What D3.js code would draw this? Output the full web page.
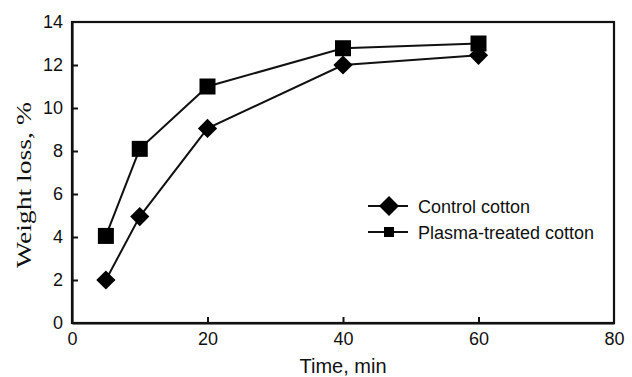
<!DOCTYPE html>
<html>
<head>
<meta charset="utf-8">
<script src="https://cdn.jsdelivr.net/npm/d3@7"></script>
<style>
  body { margin: 0; background: #fff; }
  text { font-family: "Liberation Sans", Arial, sans-serif; fill: #111; }
</style>
</head>
<body>
<div id="container"></div>
<script>
/* DATA */
const times = [5, 10, 20, 40, 60];
const controlLoss = [2.0, 4.95, 9.05, 12.0, 12.45];
const plasmaLoss = [4.05, 8.1, 11.0, 12.78, 13.0];
const seriesNames = ["Control cotton", "Plasma-treated cotton"];
const xTicks = [0, 20, 40, 60, 80];
const yTicks = [0, 2, 4, 6, 8, 10, 12, 14];

/* CONSTANTS */
const width = 632, height = 377,
  margin = { top: 22, bottom: 54, left: 72, right: 18 };

const svg = d3.select("#container")
  .append("svg")
  .attr("width", width)
  .attr("height", height);

const x = d3.scaleLinear().domain([0, 80]).range([margin.left, width - margin.right]);
const y = d3.scaleLinear().domain([0, 14]).range([height - margin.bottom, margin.top]);

// frame
svg.append("rect")
  .attr("x", x(0)).attr("y", y(14))
  .attr("width", x(80) - x(0)).attr("height", y(0) - y(14))
  .attr("fill", "none").attr("stroke", "#111").attr("stroke-width", 2.2);

// axes with inward ticks
const xAxis = svg.append("g")
  .attr("transform", `translate(0,${y(0)})`)
  .call(d3.axisBottom(x).tickValues(xTicks).tickSizeInner(-6).tickSizeOuter(0).tickPadding(9));
const yAxis = svg.append("g")
  .attr("transform", `translate(${x(0)},0)`)
  .call(d3.axisLeft(y).tickValues(yTicks).tickSizeInner(-6).tickSizeOuter(0).tickPadding(9));

[xAxis, yAxis].forEach(a => {
  a.select(".domain").attr("stroke", "#111").attr("stroke-width", 2.2);
  a.selectAll(".tick line").attr("stroke", "#111").attr("stroke-width", 2);
  a.selectAll(".tick text").attr("font-size", 18).attr("fill", "#111")
    .attr("font-family", "Liberation Sans, Arial, sans-serif");
});
xAxis.selectAll(".tick")
  .filter(d => d === 0 || d === 80)
  .select("line").remove();
yAxis.selectAll(".tick")
  .filter(d => d === 0 || d === 14)
  .select("line").remove();

// axis titles
svg.append("text")
  .attr("x", 343)
  .attr("y", 373)
  .attr("text-anchor", "middle")
  .attr("font-size", 20)
  .text("Time, min");

svg.append("text")
  .attr("transform", `translate(31,185) rotate(-90)`)
  .attr("text-anchor", "middle")
  .attr("font-size", 20)
  .attr("textLength", 166)
  .attr("lengthAdjust", "spacingAndGlyphs")
  .style("font-family", "Liberation Serif, Times New Roman, serif")
  .text("Weight loss, %");

// lines
const lineGen = d3.line().x(d => x(d[0])).y(d => y(d[1]));
const controlPts = times.map((t, i) => [t, controlLoss[i]]);
const plasmaPts = times.map((t, i) => [t, plasmaLoss[i]]);

[controlPts, plasmaPts].forEach(pts => {
  svg.append("path")
    .attr("d", lineGen(pts))
    .attr("fill", "none")
    .attr("stroke", "#111")
    .attr("stroke-width", 2);
});

const diamond = d3.symbol().type(d3.symbolSquare).size(185);

// control markers (diamonds)
svg.selectAll("path.control")
  .data(controlPts)
  .join("path")
  .attr("class", "control")
  .attr("d", diamond)
  .attr("fill", "#000")
  .attr("transform", d => `translate(${x(d[0])},${y(d[1])}) rotate(45)`);

// plasma markers (squares)
svg.selectAll("rect.plasma")
  .data(plasmaPts)
  .join("rect")
  .attr("class", "plasma")
  .attr("x", d => x(d[0]) - 8)
  .attr("y", d => y(d[1]) - 8)
  .attr("width", 16).attr("height", 16)
  .attr("fill", "#000");

// legend
const legend = svg.append("g").attr("transform", "translate(368,206)");
seriesNames.forEach((name, i) => {
  const g = legend.append("g").attr("transform", `translate(0,${i * 26})`);
  g.append("line").attr("x1", 0).attr("x2", 40).attr("y1", 0).attr("y2", 0)
    .attr("stroke", "#111").attr("stroke-width", 2);
  if (i === 0) {
    g.append("path")
      .attr("d", d3.symbol().type(d3.symbolSquare).size(200))
      .attr("transform", "translate(21,0) rotate(45)")
      .attr("fill", "#000");
  } else {
    g.append("rect").attr("x", 16).attr("y", -5).attr("width", 10).attr("height", 10)
      .attr("fill", "#000");
  }
  g.append("text")
    .attr("x", 50).attr("y", 6.5)
    .attr("font-size", 18)
    .text(name);
});
</script>
</body>
</html>
